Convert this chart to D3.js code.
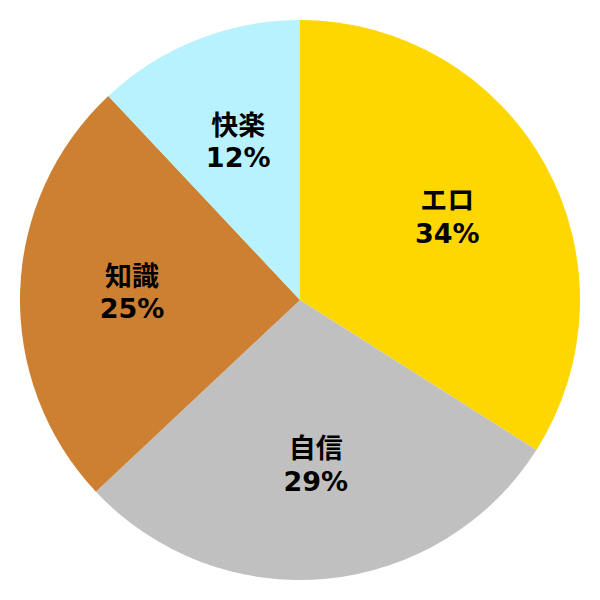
<!DOCTYPE html>
<html>
<head>
<meta charset="utf-8">
<script src="https://cdn.jsdelivr.net/npm/d3@7"></script>
<style>
  body { margin: 0; background: #fff; }
  text { font-family: "DejaVu Sans", "Noto Sans CJK JP", sans-serif; font-weight: bold; font-size: 27px; }
</style>
</head>
<body>
<div id="chart"></div>
<script>
var labels = ['エロ', '自信', '知識', '快楽'];
var values = [34, 29, 25, 12];
var colors = ['#FFD700', '#C0C0C0', '#CD7F32', '#B9F2FF'];

var width = 600, height = 600, radius = 280;

var svg = d3.select('#chart').append('svg')
    .attr('width', width)
    .attr('height', height);
var g = svg.append('g')
    .attr('transform', 'translate(' + width / 2 + ',' + height / 2 + ')');

var pie = d3.pie().sort(null).value(function(d) { return d; });
var arc = d3.arc().innerRadius(0).outerRadius(radius);
var labelArc = d3.arc().innerRadius(radius * 0.6).outerRadius(radius * 0.6);

var slices = g.selectAll('.slice')
    .data(pie(values))
    .enter().append('g')
      .attr('class', 'slice');

slices.append('path')
    .attr('d', arc)
    .attr('fill', function(d, i) { return colors[i]; });

var txt = slices.append('text')
    .attr('transform', function(d) { return 'translate(' + labelArc.centroid(d) + ')'; })
    .attr('text-anchor', 'middle');

txt.append('tspan')
    .attr('x', 0)
    .attr('dy', '-0.33em')
    .style('font-family', '"Noto Sans CJK JP", sans-serif')
    .text(function(d, i) { return labels[i]; });
txt.append('tspan')
    .attr('x', 0)
    .attr('dy', '1.2em')
    .text(function(d) { return d.data + '%'; });
</script>
</body>
</html>
